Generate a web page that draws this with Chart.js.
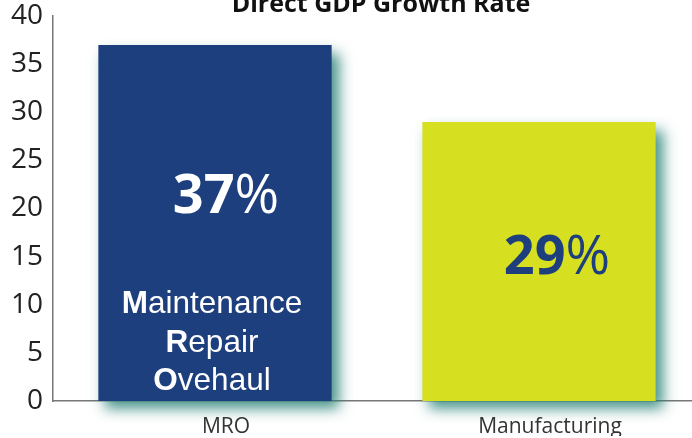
<!DOCTYPE html>
<html>
<head>
<meta charset="utf-8">
<script src="https://cdn.jsdelivr.net/npm/chart.js@4.4.1/dist/chart.umd.min.js"></script>
<style>
  html, body { margin: 0; padding: 0; background: #fff; overflow: hidden; }
  #wrap { width: 701px; height: 438px; }
</style>
</head>
<body>
<div id="wrap"><canvas id="grafica" width="701" height="438"></canvas></div>
<script>
// datos
const categorias = ["MRO", "Manufacturing"];
const valores = [37, 29];
const marcasY = [0, 5, 10, 15, 20, 25, 30, 35, 40];
const titulo = "Direct GDP Growth Rate";
const lineasMRO = ["Maintenance", "Repair", "Ovehaul"];

const colores = ["#1d3f7e", "#d6df20"];
const coloresTexto = ["#ffffff", "#1d3f7e"];

// sombra verdosa detrás de las barras
const sombra = {
  id: "sombra",
  beforeDatasetsDraw(chart) {
    const ctx = chart.ctx;
    ctx.save();
    ctx.shadowColor = "rgba(38, 128, 116, 0.85)";
    ctx.shadowBlur = 13;
    ctx.shadowOffsetX = 7;
    ctx.shadowOffsetY = 8;
  },
  afterDatasetsDraw(chart) {
    chart.ctx.restore();
  }
};

// titulo y porcentajes dentro de las barras
const textos = {
  id: "textos",
  afterDraw(chart) {
    const ctx = chart.ctx;
    const area = chart.chartArea;
    const meta = chart.getDatasetMeta(0);
    ctx.save();

    ctx.fillStyle = "#111";
    ctx.font = "bold 25px 'Open Sans'";
    ctx.textAlign = "center";
    ctx.textBaseline = "alphabetic";
    ctx.fillText(titulo, (area.left + area.right) / 2 + 4, 12);

    const dx = [11, 18];
    const dy = [168, 152];
    meta.data.forEach((barra, i) => {
      const num = String(valores[i]);
      ctx.font = "bold 54px 'Open Sans'";
      const wNum = ctx.measureText(num).width;
      ctx.font = "54px 'Open Sans'";
      const wPct = ctx.measureText("%").width;
      const x0 = barra.x + dx[i] - (wNum + wPct) / 2;
      const y0 = barra.y + dy[i];
      ctx.textAlign = "left";
      ctx.fillStyle = coloresTexto[i];
      ctx.font = "bold 54px 'Open Sans'";
      ctx.fillText(num, x0, y0);
      ctx.font = "54px 'Open Sans'";
      ctx.fillText("%", x0 + wNum, y0);
    });

    // Maintenance / Repair / Ovehaul, con la inicial en negrita
    const b = meta.data[0];
    const base = chart.scales.y.getPixelForValue(0);
    const subidas = [88, 49, 11];
    ctx.fillStyle = "#ffffff";
    lineasMRO.forEach((txt, k) => {
      const ini = txt[0], resto = txt.slice(1);
      ctx.font = "bold 31.5px 'Liberation Sans'";
      const w1 = ctx.measureText(ini).width;
      ctx.font = "31.5px 'Liberation Sans'";
      const w2 = ctx.measureText(resto).width;
      const x0 = b.x - 3 - (w1 + w2) / 2;
      const y0 = base - subidas[k];
      ctx.font = "bold 31.5px 'Liberation Sans'";
      ctx.fillText(ini, x0, y0);
      ctx.font = "31.5px 'Liberation Sans'";
      ctx.fillText(resto, x0 + w1, y0);
    });
    ctx.restore();
  }
};

new Chart(document.getElementById("grafica"), {
  type: "bar",
  data: {
    labels: categorias,
    datasets: [{
      data: valores,
      backgroundColor: colores,
      borderWidth: 0,
      categoryPercentage: 1,
      barPercentage: 0.72,
      clip: false
    }]
  },
  options: {
    responsive: false,
    animation: false,
    layout: { padding: { top: 16, right: 0, bottom: 2, left: 0 } },
    plugins: {
      legend: { display: false },
      tooltip: { enabled: false }
    },
    scales: {
      x: {
        afterFit(axis) { axis.height = 35; },
        grid: { display: false, drawTicks: false },
        border: { color: "#777", width: 1.5 },
        ticks: {
          color: "#333",
          padding: 13,
          labelOffset: 11,
          font: { family: "'Open Sans'", size: 21 }
        }
      },
      y: {
        min: 0,
        max: 40,
        afterBuildTicks(axis) {
          axis.ticks = marcasY.map(v => ({ value: v }));
        },
        afterFit(axis) {
          axis.width = 53;
          axis.paddingTop = 0;
          axis.paddingBottom = 0;
        },
        grid: { display: false, drawTicks: false },
        border: { color: "#777", width: 1.5 },
        ticks: {
          color: "#222",
          padding: 10,
          font: { family: "'Open Sans'", size: 28 }
        }
      }
    }
  },
  plugins: [sombra, textos]
});
</script>
</body>
</html>
